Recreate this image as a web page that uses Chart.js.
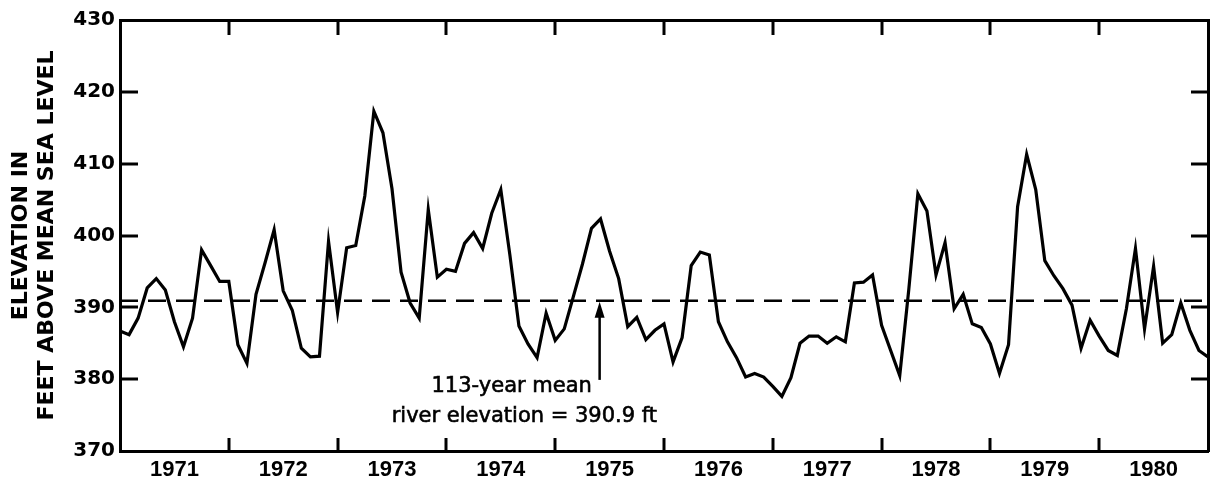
<!DOCTYPE html>
<html>
<head>
<meta charset="utf-8">
<script src="https://cdn.jsdelivr.net/npm/chart.js@4/dist/chart.umd.min.js"></script>
<style>
  html, body { margin: 0; padding: 0; background: #fff; }
  #wrap { width: 1211px; height: 481px; position: relative; }
</style>
</head>
<body>
<div id="wrap"><canvas id="c"></canvas></div>
<script>
// Monthly river elevation, Jan 1971 .. Jan 1981 (feet above mean sea level)
const elevation = [
  386.7, 386.2, 388.5, 392.7, 394.0, 392.4, 388.0, 384.5, 388.5, 398.0, 395.8, 393.6,
  393.6, 384.8, 382.2, 391.8, 396.2, 400.8, 392.3, 389.6, 384.3, 383.1, 383.2, 399.2,
  389.3, 398.3, 398.6, 405.5, 417.3, 414.3, 406.5, 394.9, 390.6, 388.5, 403.6, 394.2,
  395.3, 395.0, 398.9, 400.4, 398.2, 403.1, 406.4, 397.3, 387.4, 384.9, 383.0, 389.2,
  385.4, 387.0, 391.5, 396.0, 401.0, 402.3, 397.8, 394.0, 387.3, 388.6, 385.5, 386.8,
  387.7, 382.4, 385.8, 395.8, 397.7, 397.3, 388.0, 385.2, 383.0, 380.3, 380.8, 380.3,
  379.0, 377.6, 380.2, 385.0, 386.0, 386.0, 385.0, 385.9, 385.2, 393.4, 393.5, 394.5,
  387.5, 384.0, 380.5, 392.5, 405.8, 403.4, 394.5, 399.0, 389.8, 391.8, 387.7, 387.2,
  384.9, 380.8, 384.8, 404.0, 411.3, 406.4, 396.5, 394.4, 392.6, 390.3, 384.3, 388.2,
  386.0, 384.0, 383.3, 389.8, 398.2, 387.0, 395.7, 385.0, 386.2, 390.6, 386.8, 384.0,
  383.1
];
const yearLabels = ['1971','1972','1973','1974','1975','1976','1977','1978','1979','1980'];
const yTickValues = [370, 380, 390, 400, 410, 420, 430];
const meanElevation = 390.9;
const noteLines = ['113-year mean', 'river elevation = 390.9 ft'];

const MONTHS_PER_YEAR = 12;
const xMax = yearLabels.length * MONTHS_PER_YEAR;
const yearBoundaries = yearLabels.slice(1).map((_, k) => (k + 1) * MONTHS_PER_YEAR);
const yearCenters = yearLabels.map((_, k) => k * MONTHS_PER_YEAR + MONTHS_PER_YEAR / 2);

const seriesPoints = elevation.map((v, i) => ({ x: i, y: v }));
const meanPoints = [{ x: 0, y: meanElevation }, { x: xMax, y: meanElevation }];

const inwardTicks = {
  id: 'inwardTicks',
  afterDatasetsDraw(chart) {
    const { ctx, chartArea: a, scales: { x, y } } = chart;
    ctx.save();
    ctx.strokeStyle = '#000';
    ctx.lineWidth = 3;
    ctx.lineCap = 'butt';
    const seg = (x1, y1, x2, y2) => { ctx.beginPath(); ctx.moveTo(x1, y1); ctx.lineTo(x2, y2); ctx.stroke(); };
    yearBoundaries.forEach(m => {
      const px = Math.round(x.getPixelForValue(m));
      seg(px, a.top, px, a.top + 15);
      seg(px, a.bottom, px, a.bottom - 13);
    });
    yTickValues.slice(1, -1).forEach(v => {
      const py = Math.round(y.getPixelForValue(v));
      seg(a.left, py, a.left + 18, py);
      seg(a.right, py, a.right - 17, py);
    });

    // annotation arrow pointing to the mean line
    const ax = x.getPixelForValue(52.9);
    const tipY = y.getPixelForValue(meanElevation) + 1;
    const tailY = y.getPixelForValue(379.9);
    ctx.lineWidth = 2.5;
    seg(ax, tailY, ax, tipY + 10);
    ctx.beginPath();
    ctx.moveTo(ax, tipY);
    ctx.lineTo(ax - 5, tipY + 16);
    ctx.lineTo(ax + 5, tipY + 16);
    ctx.closePath();
    ctx.fillStyle = '#000';
    ctx.fill();

    // annotation text
    ctx.font = '21px "DejaVu Sans"';
    ctx.textAlign = 'center';
    ctx.textBaseline = 'alphabetic';
    ctx.lineWidth = 0.6;
    const t1x = x.getPixelForValue(43.2), t1y = y.getPixelForValue(378.25);
    const t2x = x.getPixelForValue(44.6), t2y = y.getPixelForValue(374.1);
    ctx.fillText(noteLines[0], t1x, t1y);
    ctx.strokeText(noteLines[0], t1x, t1y);
    ctx.fillText(noteLines[1], t2x, t2y);
    ctx.strokeText(noteLines[1], t2x, t2y);
    ctx.restore();
  }
};

new Chart(document.getElementById('c'), {
  type: 'line',
  data: {
    datasets: [
      {
        data: seriesPoints,
        borderColor: '#000',
        borderWidth: 3.2,
        pointRadius: 0,
        tension: 0,
        fill: false
      },
      {
        data: meanPoints,
        borderColor: '#000',
        borderWidth: 2.5,
        borderDash: [18, 10],
        pointRadius: 0,
        fill: false
      }
    ]
  },
  options: {
    responsive: true,
    maintainAspectRatio: false,
    animation: false,
    events: [],
    layout: { padding: { top: 20, right: 3, bottom: 0, left: 0 } },
    plugins: { legend: { display: false }, tooltip: { enabled: false }, title: { display: false } },
    scales: {
      x: {
        type: 'linear',
        position: 'bottom',
        min: 0,
        max: xMax,
        grid: { display: false, drawTicks: false },
        border: { display: true, color: '#000', width: 3 },
        afterBuildTicks(scale) { scale.ticks = yearCenters.map(v => ({ value: v })); },
        afterFit(scale) { scale.height = 30; },
        ticks: {
          autoSkip: false,
          maxRotation: 0,
          padding: 6,
          color: '#000',
          font: { family: '"Liberation Sans", Arial, sans-serif', size: 22, weight: 'bold' },
          callback(value) { return yearLabels[Math.floor(value / MONTHS_PER_YEAR)]; }
        }
      },
      x2: {
        type: 'linear',
        position: 'top',
        min: 0,
        max: xMax,
        grid: { display: false, drawTicks: false },
        border: { display: true, color: '#000', width: 3 },
        ticks: { display: false },
        afterFit(scale) { scale.height = 0; }
      },
      y: {
        type: 'linear',
        position: 'left',
        min: 370,
        max: 430,
        afterBuildTicks(scale) { scale.ticks = yTickValues.map(v => ({ value: v })); },
        afterFit(scale) { scale.width = 120; },
        grid: { display: false, drawTicks: false },
        border: { display: true, color: '#000', width: 3 },
        ticks: {
          padding: 5,
          color: '#000',
          font: { family: '"DejaVu Sans", sans-serif', size: 20, weight: 'bold' }
        },
        title: {
          display: true,
          text: ['ELEVATION IN', 'FEET ABOVE MEAN SEA LEVEL'],
          color: '#000',
          padding: { top: 8, bottom: 0 },
          font: { family: '"DejaVu Sans", sans-serif', size: 22, weight: 'bold', lineHeight: 1.2 }
        }
      },
      y2: {
        type: 'linear',
        position: 'right',
        min: 370,
        max: 430,
        grid: { display: false, drawTicks: false },
        border: { display: true, color: '#000', width: 3 },
        ticks: { display: false },
        afterFit(scale) { scale.width = 0; }
      }
    }
  },
  plugins: [inwardTicks]
});
</script>
</body>
</html>
